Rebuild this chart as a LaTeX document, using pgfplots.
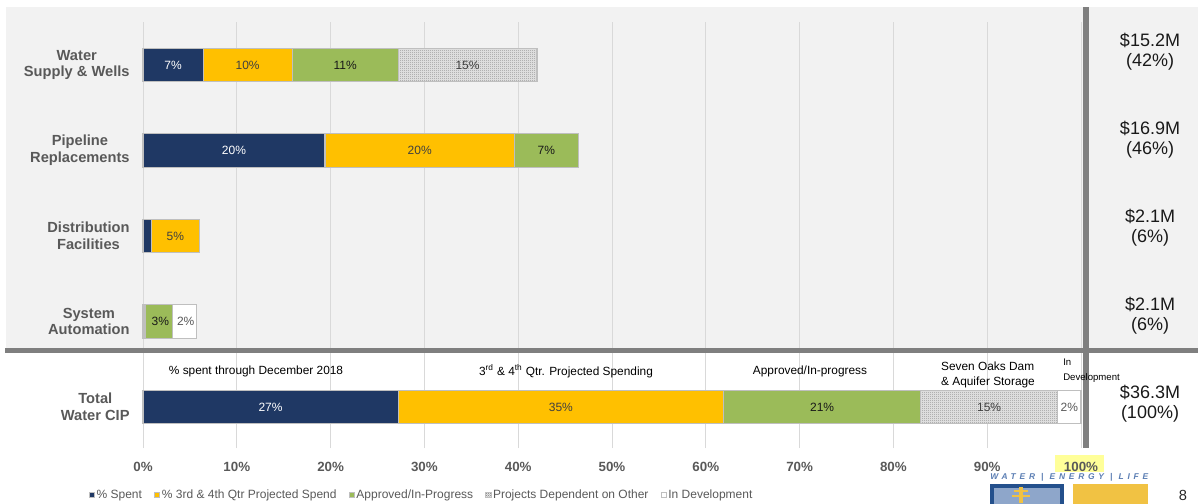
\documentclass[border=0pt]{standalone}
\usepackage{pgfplots}
\pgfplotsset{compat=1.18}
\usepackage{pgfplotstable}
\usetikzlibrary{patterns}
\usepackage{fontspec}
\setmainfont{Liberation Sans}

\definecolor{navy}{HTML}{1F3864}
\definecolor{gold}{HTML}{FFC000}
\definecolor{olive}{HTML}{9BBB59}
\definecolor{bg}{HTML}{F2F2F2}
\definecolor{band}{HTML}{7F7F7F}
\definecolor{gridc}{HTML}{D9D9D9}
\definecolor{labgray}{HTML}{595959}
\definecolor{edge}{HTML}{BFBFBF}
\definecolor{hl}{HTML}{FFFF99}
\definecolor{logoblue}{HTML}{24508C}
\definecolor{logolight}{HTML}{8EA6CA}
\definecolor{logogold}{HTML}{F1C243}
\definecolor{logotext}{HTML}{5A7DB3}

\pgfdeclarepatternformonly{finecheck}{\pgfpointorigin}{\pgfpoint{1.5pt}{1.5pt}}{\pgfpoint{1.5pt}{1.5pt}}{%
  \pgfpathrectangle{\pgfpointorigin}{\pgfpoint{0.75pt}{0.75pt}}%
  \pgfpathrectangle{\pgfpoint{0.75pt}{0.75pt}}{\pgfpoint{0.75pt}{0.75pt}}%
  \pgfusepath{fill}}

\pgfplotstableread{
y spent q34 appr dep dev
4 6.4 9.5 11.3 14.8 0
3 19.4 20.2 6.8 0 0
2 0.9 5.1 0 0 0
1 0.15 0.15 2.85 0 2.55
0 27.2 34.7 21.0 14.6 2.5
}\cipdata

\pgfplotstableread{
x y lab
3.2 4 7
9.7 3 20
13.6 0 27
}\labwhite
\pgfplotstableread{
x y lab
11.15 4 10
34.6 4 15
29.5 3 20
3.45 2 5
44.55 0 35
90.2 0 15
}\labdark
\pgfplotstableread{
x y lab
21.55 4 11
43.0 3 7
1.85 1 3
72.4 0 21
}\labblack
\pgfplotstableread{
x y lab
4.55 1 2
98.75 0 2
}\labgray

\pgfplotsset{
  segment/.style={draw=edge, line width=0.8pt,
    legend image code/.code={\draw[##1, line width=0.4pt] (0pt,-2pt) rectangle (4pt,2pt);}},
  common/.style={at={(107.25pt,41.25pt)}, anchor=south west,
    scale only axis, width=703.5pt, height=319.5pt,
    xmin=0, xmax=100, ymin=-0.4795, ymax=4.503, clip=false},
  barlab/.style={draw=none, mark=*, mark size=0pt, mark options={draw=none,fill=none},
    point meta=explicit symbolic, nodes near coords={\pgfplotspointmeta\%},
    nodes near coords style={anchor=center, font=\fontsize{9}{10}\selectfont, text=#1}}
}

\begin{document}
\begin{tikzpicture}
\path[use as bounding box] (0,0) rectangle (898.5pt,377.25pt);
\begin{scope}[x=0.75pt,y=-0.75pt,yshift=377.25pt]
  \fill[bg] (6,7) rectangle (1198,351);
  \fill[hl] (1055,455) rectangle (1104,472);
\end{scope}

\begin{axis}[common,
  xbar stacked, bar width=25pt,
  axis line style={draw=none}, tick style={draw=none}, major tick length=0pt,
  ytick=\empty,
  xtick={0,10,...,100},
  xticklabels={0\%,10\%,20\%,30\%,40\%,50\%,60\%,70\%,80\%,90\%,100\%},
  xticklabel style={anchor=center, yshift=-14.25pt, font=\fontsize{10}{12}\selectfont\bfseries, text=labgray},
  xmajorgrids, grid style={draw=gridc, line width=0.75pt},
  legend columns=5,
  legend style={at={(0.297,-0.110)}, anchor=center, draw=none, fill=none,
    font=\fontsize{9}{10}\selectfont, text=labgray,
    /tikz/every even column/.append style={column sep=7.5pt},
    nodes={inner xsep=1.5pt, inner ysep=0pt}},
  legend cell align=left,
]
\addplot[segment, fill=navy] table[x=spent, y=y] \cipdata;
\addlegendentry{\% Spent}
\addplot[segment, fill=gold] table[x=q34, y=y] \cipdata;
\addlegendentry{\% 3rd \& 4th Qtr Projected Spend}
\addplot[segment, fill=olive] table[x=appr, y=y] \cipdata;
\addlegendentry{Approved/In-Progress}
\addplot[segment, fill=gray!18, postaction={pattern=finecheck, pattern color=gray!85}] table[x=dep, y=y] \cipdata;
\addlegendentry{Projects Dependent on Other}
\addplot[segment, fill=white] table[x=dev, y=y] \cipdata;
\addlegendentry{In Development}
\end{axis}

\begin{axis}[common, hide axis]
\addplot[barlab=white] table[x=x, y=y, meta=lab] \labwhite;
\addplot[barlab={black!75}] table[x=x, y=y, meta=lab] \labdark;
\addplot[barlab={black!90}] table[x=x, y=y, meta=lab] \labblack;
\addplot[barlab=labgray] table[x=x, y=y, meta=lab] \labgray;
\begin{scope}[every node/.style={anchor=east, align=center, text=labgray,
    font=\fontsize{11}{12.5}\selectfont\bfseries, xshift=-6.5pt}]
\node at (axis cs:0,4) {Water\\Supply \& Wells};
\node at (axis cs:0,3) {Pipeline\\Replacements};
\node at (axis cs:0,2) {Distribution\\Facilities};
\node at (axis cs:0,1) {System\\Automation};
\node at (axis cs:0,0) {Total\\Water CIP};
\end{scope}
\end{axis}

\begin{scope}[x=0.75pt,y=-0.75pt,yshift=377.25pt]
  \fill[band] (5,348) rectangle (1198,353);
  \fill[band] (1083,7) rectangle (1089,448);
  % right-hand totals
  \begin{scope}[every node/.style={align=center, font=\fontsize{13.5}{15}\selectfont, text=black!90}]
    \node at (1150,52) {\$15.2M\\(42\%)};
    \node at (1150,140) {\$16.9M\\(46\%)};
    \node at (1150,228) {\$2.1M\\(6\%)};
    \node at (1150,316) {\$2.1M\\(6\%)};
    \node at (1150,404) {\$36.3M\\(100\%)};
  \end{scope}
  % annotations above total bar
  \begin{scope}[every node/.style={font=\fontsize{8.9}{11.25}\selectfont, text=black}]
    \node at (256,371) {\% spent through December 2018};
    \node at (566,371) {3\textsuperscript{rd} \& 4\textsuperscript{th} Qtr. Projected Spending};
    \node at (810,371) {Approved/In-progress};
    \node[align=left] at (988,374.5) {Seven Oaks Dam\\\& Aquifer Storage};
  \end{scope}
  \node[anchor=west, align=left, inner sep=0pt, font=\fontsize{7.2}{11.25}\selectfont, text=black] at (1063,370.5) {In\\Development};
  % logo
  \node[anchor=west, inner sep=0pt, text=logotext, font=\fontsize{6.3}{7}\selectfont\bfseries\itshape\addfontfeature{LetterSpace=45}] at (990,477) {WATER | ENERGY | LIFE};
  \fill[logoblue] (990,484) rectangle (1064,506);
  \fill[logolight] (994,488) rectangle (1060,506);
  \fill[logogold] (1019,487) rectangle (1023,503);
  \fill[logogold] (1014,490) rectangle (1028,492);
  \fill[logogold] (1012,495) rectangle (1030,497);
  \fill[logogold] (1073,484) rectangle (1148,506);
  \node[anchor=north, inner sep=0pt, font=\fontsize{11}{13}\selectfont, text=black!85] at (1183,490) {8};
\end{scope}
\end{tikzpicture}
\end{document}
